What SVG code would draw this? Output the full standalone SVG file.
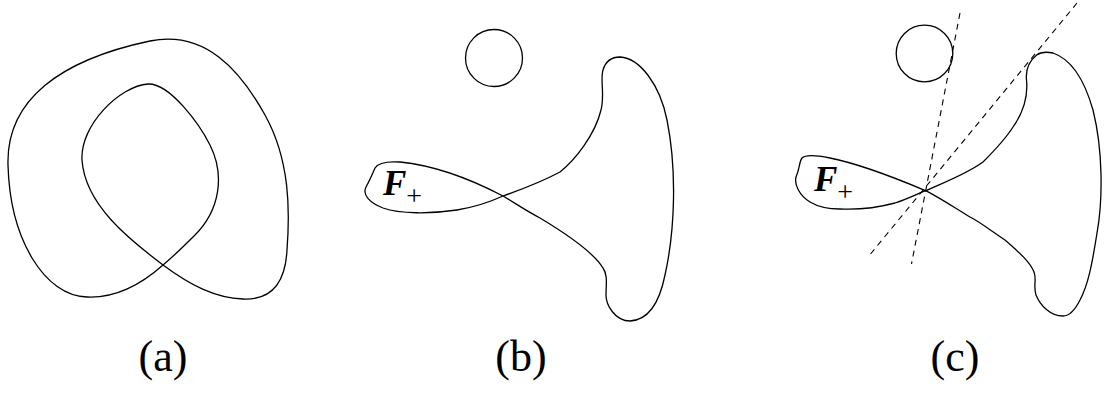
<svg xmlns="http://www.w3.org/2000/svg" width="1112" height="394" viewBox="0 0 1112 394">
<style>
.c{fill:none;stroke:#000;stroke-width:1.3}
.d{fill:none;stroke:#000;stroke-width:1.1;stroke-dasharray:6,5}
.lab{font-family:"Liberation Serif",serif;font-size:44px;text-anchor:middle}
.F{font-family:"Liberation Serif",serif;font-size:35px;font-weight:bold;font-style:italic}
.s{font-family:"Liberation Serif",serif;font-size:28px}
</style>
<rect width="1112" height="394" fill="#fff"/>
<g id="panel-a">
<path class="c" d="M163,265 C135,290 110,298 87,297 C45,296 10,240 8,165 C6,100 60,60 150,41 C205,30 240,70 265,115 C290,160 290,210 287,250 C285,290 265,300 243,299 C215,298 190,285 163,265 C130,240 85,205 82,160 C80,125 120,86 148,84 C170,83 200,125 210,145 C225,175 220,210 195,235 C185,245 175,255 163,265 Z"/>
<text class="lab" x="163" y="371">(a)</text>
</g>
<g id="panel-b">
<circle class="c" cx="494" cy="58" r="28.5"/>
<path class="c" d="M503,196 C480,184 440,166 400,162 C385,161 378,163 375,168 C372,175 370,180 366,187 C362,195 370,203 383,208 C400,214 430,214 457,210 C475,207 490,202 503,196 C520,190 545,180 560,172 C575,160 595,135 601,110 C605,95 600,80 603,70 C606,60 612,57 620,57 C640,58 660,85 667,120 C677,170 675,230 665,275 C660,300 650,320 630,321 C615,321 606,305 606,295 C606,285 608,275 603,268 C592,250 560,230 540,218 C525,210 515,203 503,196 Z"/>
<text x="383" y="195"><tspan class="F">F</tspan><tspan class="s" dy="10">+</tspan></text>
<text class="lab" x="521" y="371">(b)</text>
</g>
<g id="panel-c">
<circle class="c" cx="924.5" cy="53.5" r="28.3"/>
<path class="c" d="M925.7,190.7 C905,182 865,165 830,158 C815,155 805,155 802,158 C799,162 800,168 796,177 C794,185 800,196 810,202 C820,208 830,209 840,209 C860,210 880,207 895,203 C905,200 915,195 925.7,190.7 C940,184 965,175 983,162 C995,150 1008,135 1013,127 C1025,110 1028,95 1026.5,80 C1025.5,70 1028,62 1036.7,55 C1042,51 1048,52 1053,53 C1068,58 1083,75 1093,110 C1103,150 1103,200 1097,233 C1092,265 1088,285 1080,300 C1075,310 1070,316 1063,316 C1050,316 1040,305 1036,295 C1033,285 1037,280 1034,272 C1030,262 1020,253 1005,240 C990,230 980,222 970,217 C955,208 940,198 925.7,190.7 Z"/>
<line class="d" x1="960" y1="13" x2="911.5" y2="264"/>
<line class="d" x1="1077" y1="3" x2="870.5" y2="254"/>
<text x="814" y="191"><tspan class="F">F</tspan><tspan class="s" dy="10">+</tspan></text>
<text class="lab" x="955" y="371">(c)</text>
</g>
</svg>
